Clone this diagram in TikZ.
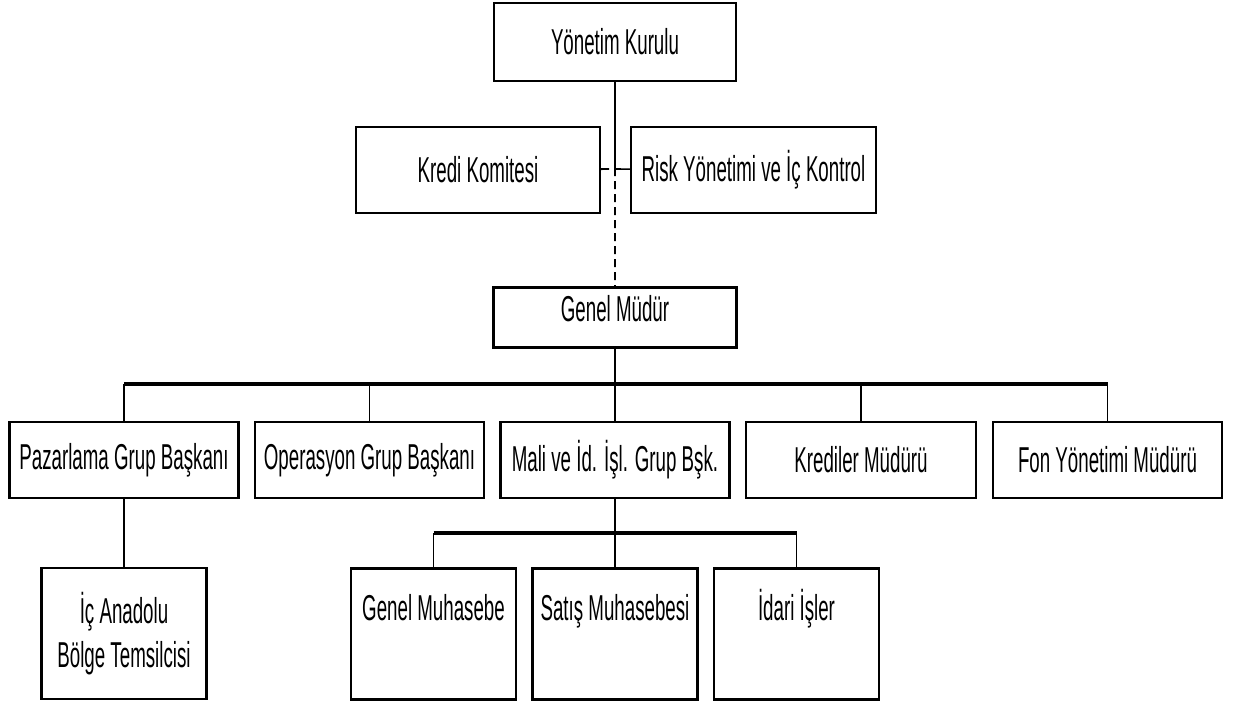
\documentclass[tikz,border=0pt]{standalone}
\usepackage{fontspec}
\newfontfamily\orgfont[FakeStretch=0.52]{Liberation Sans}
\usepackage{tikz}
\usetikzlibrary{positioning}

\begin{document}
\begin{tikzpicture}[x=0.5pt, y=-0.5pt,
        unit/.style={draw, line width=1.2pt, inner sep=0pt, align=center,
            font=\orgfont\fontsize{18}{22}\selectfont},
        leaf/.style={unit, minimum width=82.5pt, minimum height=65.5pt},
        toptext/.style={text height=26pt, text depth=39.5pt},
        link/.style={line width=0.8pt},
        bus/.style={line width=1.8pt},
        dotted link/.style={line width=0.9pt, dash pattern=on 4pt off 2.5pt}]
        \useasboundingbox (0,0) rectangle (1238,703);
        % board
        \node[unit, minimum width=121pt, minimum height=39pt] (0) at (615,42) {Yönetim Kurulu};
        % committees
        \node[unit, minimum width=122pt, minimum height=43pt] (11) at (478,170) {Kredi Komitesi};
        \node[unit, minimum width=122.5pt, minimum height=43pt] (12) at (753.5,170) {Risk Yönetimi ve İç Kontrol};
        % general manager
        \node[unit, minimum width=121.5pt, minimum height=30pt, text depth=9pt] (2) at (615,317.5) {Genel Müdür};
        % group heads
        \node[unit, minimum width=114.5pt, minimum height=38pt] (31) at (124,460) {Pazarlama Grup Başkanı};
        \node[unit, minimum width=114.5pt, minimum height=38pt] (32) at (369.5,460) {Operasyon Grup Başkanı};
        \node[unit, minimum width=114.5pt, minimum height=38pt] (33) at (615,460) {Mali ve İd. İşl. Grup Bşk.};
        \node[unit, minimum width=115pt, minimum height=38pt] (34) at (861,460) {Krediler Müdürü};
        \node[unit, minimum width=114.5pt, minimum height=38pt] (35) at (1107.5,460) {Fon Yönetimi Müdürü};
        % bottom layer
        \node[leaf] (41) at (124,633.5) {İç Anadolu\\Bölge Temsilcisi};
        \node[leaf, toptext] (42) at (433.5,634) {Genel Muhasebe};
        \node[leaf, toptext] (43) at (615,634) {Satış Muhasebesi};
        \node[leaf, toptext] (44) at (796.5,634) {İdari İşler};

        % junctions
        \coordinate (j) at (615,169);
        \coordinate (b) at (615,384);
        \coordinate (s) at (615,533);

        % Now the lines between the nodes
        \draw[link] (0) -- (j) -- (12);
        \draw[dotted link] (11) -- (j) -- (2);
        \draw[link] (2) -- (b);
        \draw[bus] (31 |- b) -- (35 |- b);
        \draw[link] (31 |- b) -- (31);
        \draw[link] (32 |- b) -- (32);
        \draw[link] (33 |- b) -- (33);
        \draw[link] (34 |- b) -- (34);
        \draw[link] (35 |- b) -- (35);
        \draw[link] (31) -- (41);
        \draw[bus] (42 |- s) -- (44 |- s);
        \draw[link] (33) -- (43);
        \draw[link] (42 |- s) -- (42);
        \draw[link] (44 |- s) -- (44);
    \end{tikzpicture}
\end{document}
